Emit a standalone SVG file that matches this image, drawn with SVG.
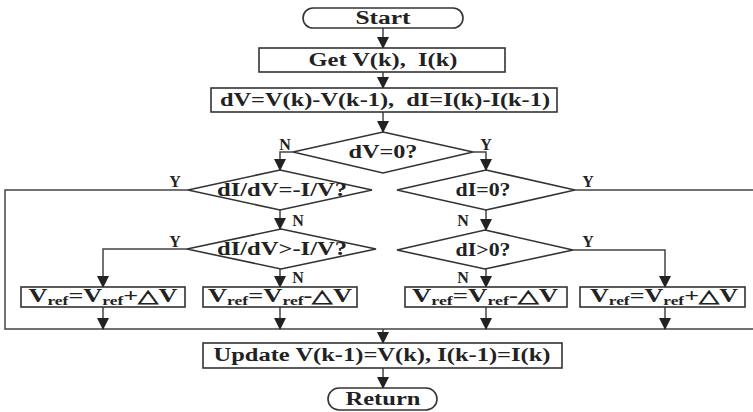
<svg xmlns="http://www.w3.org/2000/svg" width="753" height="412" viewBox="0 0 753 412">
<defs>
<style>
.shape{fill:#fff;stroke:#333;stroke-width:1.6}
.conn{fill:none;stroke:#444;stroke-width:1.5}
.t{font-family:"Liberation Serif","Times New Roman",serif;font-weight:bold;font-size:18px;fill:#222;text-anchor:middle}
.lbl{font-family:"Liberation Serif","Times New Roman",serif;font-weight:bold;font-size:16px;fill:#222;text-anchor:middle}
.sub{font-size:12px}
</style>
<marker id="arr" markerUnits="userSpaceOnUse" markerWidth="13" markerHeight="12" refX="12" refY="6.5" orient="auto" viewBox="0 0 13 13">
<path d="M0,0 L13,6.5 L0,13 Z" fill="#222"/>
</marker>
</defs>
<rect width="753" height="412" fill="#fff"/>

<g id="connectors">
<path class="conn" d="M383,28 V48" marker-end="url(#arr)"/>
<path class="conn" d="M383,72 V88" marker-end="url(#arr)"/>
<path class="conn" d="M383,112 V132" marker-end="url(#arr)"/>
<path class="conn" d="M293,152 H280 V170" marker-end="url(#arr)"/>
<path class="conn" d="M473,152 H486 V170" marker-end="url(#arr)"/>
<path class="conn" d="M188,190 H5 V329 H758"/>
<path class="conn" d="M575,190 H758 V329"/>
<path class="conn" d="M280,210 V229" marker-end="url(#arr)"/>
<path class="conn" d="M187,249 H103 V287" marker-end="url(#arr)"/>
<path class="conn" d="M280,269 V287" marker-end="url(#arr)"/>
<path class="conn" d="M486,210 V230" marker-end="url(#arr)"/>
<path class="conn" d="M573,250 H665 V287" marker-end="url(#arr)"/>
<path class="conn" d="M486,269 V287" marker-end="url(#arr)"/>
<path class="conn" d="M103,307 V329" marker-end="url(#arr)"/>
<path class="conn" d="M280,307 V329" marker-end="url(#arr)"/>
<path class="conn" d="M486,307 V329" marker-end="url(#arr)"/>
<path class="conn" d="M665,307 V329" marker-end="url(#arr)"/>
<path class="conn" d="M383,329 V343" marker-end="url(#arr)"/>
<path class="conn" d="M383,368 V388" marker-end="url(#arr)"/>
<text class="lbl" x="285" y="150">N</text>
<text class="lbl" x="486" y="150">Y</text>
<text class="lbl" x="175" y="187">Y</text>
<text class="lbl" x="298" y="226">N</text>
<text class="lbl" x="175" y="247">Y</text>
<text class="lbl" x="298" y="283">N</text>
<text class="lbl" x="588" y="187">Y</text>
<text class="lbl" x="463" y="226">N</text>
<text class="lbl" x="588" y="247">Y</text>
<text class="lbl" x="463" y="283">N</text>
</g>

<g id="start">
<rect class="shape" x="303" y="8" width="160" height="20" rx="10" ry="10"/>
<text class="t" x="383" y="24" textLength="55" lengthAdjust="spacingAndGlyphs">Start</text>
</g>
<g id="get">
<rect class="shape" x="259" y="48" width="246" height="24"/>
<text class="t" x="383" y="66" textLength="149" lengthAdjust="spacingAndGlyphs" xml:space="preserve">Get V(k),  I(k)</text>
</g>
<g id="diff">
<rect class="shape" x="211" y="88" width="346" height="24"/>
<text class="t" x="385" y="106" textLength="330" lengthAdjust="spacingAndGlyphs" xml:space="preserve">dV=V(k)-V(k-1),  dI=I(k)-I(k-1)</text>
</g>
<g id="dv0">
<polygon class="shape" points="383,132 473,152 383,173 293,152"/>
<text class="t" x="383" y="158" textLength="69" lengthAdjust="spacingAndGlyphs">dV=0?</text>
</g>
<g id="d1">
<polygon class="shape" points="280,170 372,190 280,210 188,190"/>
<text class="t" x="282" y="196" textLength="130" lengthAdjust="spacingAndGlyphs">dI/dV=-I/V?</text>
</g>
<g id="d2">
<polygon class="shape" points="281,229 376,249 281,269 187,249"/>
<text class="t" x="282" y="255" textLength="130" lengthAdjust="spacingAndGlyphs">dI/dV&gt;-I/V?</text>
</g>
<g id="d3">
<polygon class="shape" points="486,170 575,190 486,210 397,190"/>
<text class="t" x="483" y="196" textLength="55" lengthAdjust="spacingAndGlyphs">dI=0?</text>
</g>
<g id="d4">
<polygon class="shape" points="485,230 573,250 485,269 397,250"/>
<text class="t" x="483" y="256" textLength="55" lengthAdjust="spacingAndGlyphs">dI&gt;0?</text>
</g>
<g id="b1">
<rect class="shape" x="21" y="287" width="164" height="20"/>
<text class="t" x="103" y="302" textLength="149" lengthAdjust="spacingAndGlyphs">V<tspan class="sub" dy="3">ref</tspan><tspan dy="-3">=V</tspan><tspan class="sub" dy="3">ref</tspan><tspan dy="-3">+△V</tspan></text>
</g>
<g id="b2">
<rect class="shape" x="203" y="287" width="154" height="20"/>
<text class="t" x="280" y="302" textLength="144" lengthAdjust="spacingAndGlyphs">V<tspan class="sub" dy="3">ref</tspan><tspan dy="-3">=V</tspan><tspan class="sub" dy="3">ref</tspan><tspan dy="-3">-△V</tspan></text>
</g>
<g id="b3">
<rect class="shape" x="405" y="287" width="162" height="20"/>
<text class="t" x="485" y="302" textLength="146" lengthAdjust="spacingAndGlyphs">V<tspan class="sub" dy="3">ref</tspan><tspan dy="-3">=V</tspan><tspan class="sub" dy="3">ref</tspan><tspan dy="-3">-△V</tspan></text>
</g>
<g id="b4">
<rect class="shape" x="580" y="287" width="165" height="20"/>
<text class="t" x="664" y="302" textLength="148" lengthAdjust="spacingAndGlyphs">V<tspan class="sub" dy="3">ref</tspan><tspan dy="-3">=V</tspan><tspan class="sub" dy="3">ref</tspan><tspan dy="-3">+△V</tspan></text>
</g>
<g id="update">
<rect class="shape" x="203" y="343" width="359" height="25"/>
<text class="t" x="382" y="361" textLength="337" lengthAdjust="spacingAndGlyphs">Update V(k-1)=V(k), I(k-1)=I(k)</text>
</g>
<g id="return">
<rect class="shape" x="328" y="388" width="109" height="22" rx="11" ry="11"/>
<text class="t" x="383" y="405" textLength="75" lengthAdjust="spacingAndGlyphs">Return</text>
</g>
</svg>
